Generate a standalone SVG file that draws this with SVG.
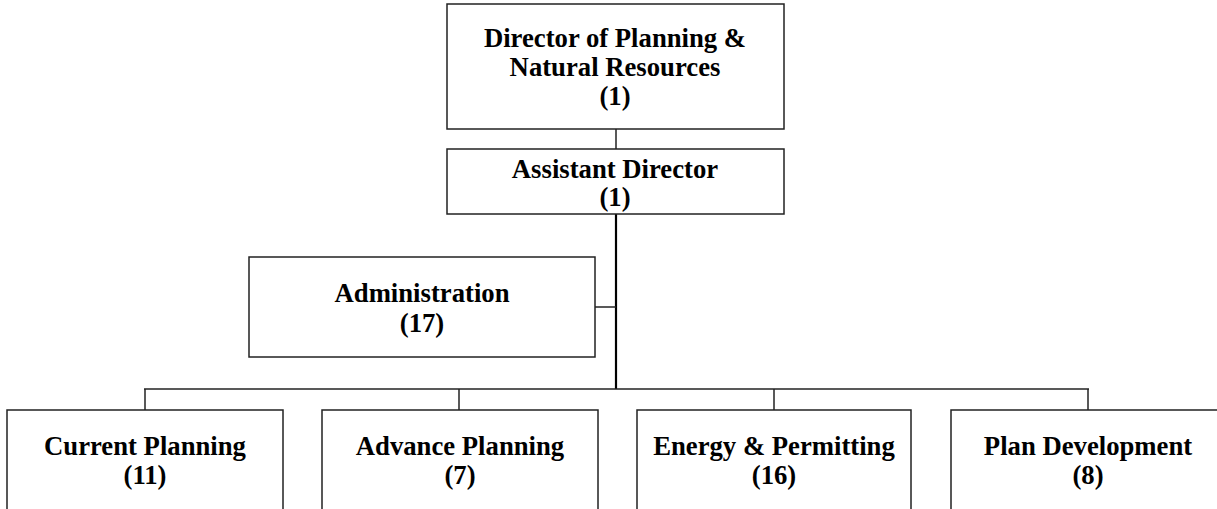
<svg xmlns="http://www.w3.org/2000/svg" width="1217" height="509" viewBox="0 0 1217 509">
<style>
.box{fill:#fff;stroke:#222;stroke-width:1.5}
.ln{stroke:#222;stroke-width:1.5;fill:none}
.main{stroke:#000;stroke-width:2.2;fill:none}
text{font-family:"Liberation Serif","Times New Roman",serif;font-weight:bold;font-size:26.7px;text-anchor:middle;fill:#000}
</style>
<rect width="1217" height="509" fill="#fff"/>
<g id="connectors">
<line class="ln" x1="616" y1="129" x2="616" y2="149"/>
<line class="main" x1="616" y1="214" x2="616" y2="389"/>
<line class="ln" x1="595" y1="307" x2="616" y2="307"/>
<line class="ln" x1="144" y1="389" x2="1089" y2="389"/>
<line class="ln" x1="145" y1="389" x2="145" y2="410"/>
<line class="ln" x1="459" y1="389" x2="459" y2="410"/>
<line class="ln" x1="774" y1="389" x2="774" y2="410"/>
<line class="ln" x1="1088" y1="389" x2="1088" y2="410"/>
</g>
<g id="director">
<rect class="box" x="447" y="4" width="337" height="125"/>
<text x="615" y="47">Director of Planning &amp;</text>
<text x="615" y="76">Natural Resources</text>
<text x="615" y="105">(1)</text>
</g>
<g id="assistant">
<rect class="box" x="447" y="149" width="337" height="65"/>
<text x="615" y="178">Assistant Director</text>
<text x="615" y="206">(1)</text>
</g>
<g id="administration">
<rect class="box" x="249" y="257" width="346" height="100"/>
<text x="422" y="302">Administration</text>
<text x="422" y="332">(17)</text>
</g>
<g id="current">
<rect class="box" x="7" y="410" width="276" height="110"/>
<text x="145" y="455">Current Planning</text>
<text x="145" y="484">(11)</text>
</g>
<g id="advance">
<rect class="box" x="322" y="410" width="276" height="110"/>
<text x="460" y="455">Advance Planning</text>
<text x="460" y="484">(7)</text>
</g>
<g id="energy">
<rect class="box" x="637" y="410" width="274" height="110"/>
<text x="774" y="455">Energy &amp; Permitting</text>
<text x="774" y="484">(16)</text>
</g>
<g id="plandev">
<rect class="box" x="951" y="410" width="276" height="110"/>
<text x="1088" y="455">Plan Development</text>
<text x="1088" y="484">(8)</text>
</g>
</svg>
